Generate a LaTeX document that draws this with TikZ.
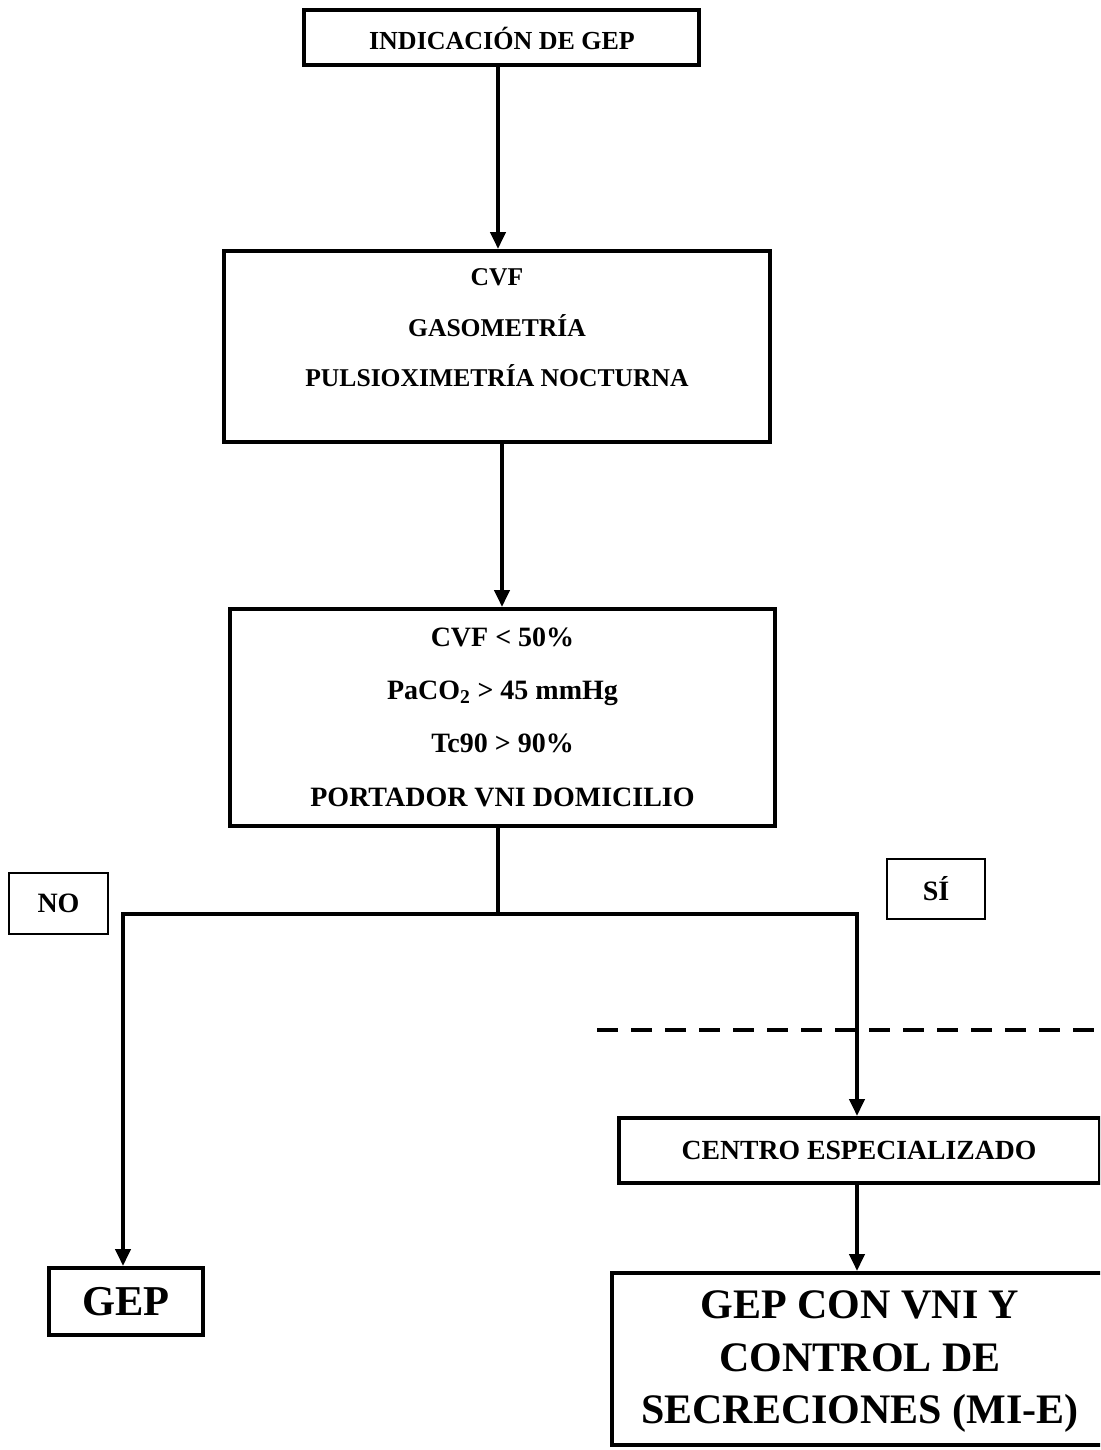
\documentclass[tikz,border=0pt]{standalone}
\usepackage{fontspec}
\setmainfont{Liberation Serif}
\usetikzlibrary{arrows.meta}
\begin{document}
\begin{tikzpicture}[x=1pt,y=-1pt,
  box/.style={draw,line width=4pt,inner sep=0pt,minimum width=#1},
  lbox/.style={draw,line width=1.8pt,inner sep=0pt},
  txt/.style={inner sep=0pt,align=center,font=#1},
  arr/.style={line width=4pt,-{Triangle[width=15pt,length=17pt]}},
  ln/.style={line width=4pt}]
\useasboundingbox (0,0) rectangle (1100,1450);
\clip (0,0) rectangle (1100,1450);
% boxes
\node[box=395pt,minimum height=55pt] (b1) at (501.5,37.5) {};
\node[txt={\fontsize{26}{30}\selectfont\bfseries}] (b1t) at (502,38) {INDICACIÓN DE GEP};
\node[box=546pt,minimum height=191pt] (b2) at (497,346.5) {};
\node[txt={\fontsize{25.6}{50.5}\selectfont\bfseries}] (b2t) at (497,328) {CVF\\GASOMETRÍA\\PULSIOXIMETRÍA NOCTURNA};
\node[box=545pt,minimum height=217pt] (b3) at (502.5,717.5) {};
\node[txt={\fontsize{28}{53.3}\selectfont\bfseries}] (b3t) at (502.5,717) {CVF < 50\%\\PaCO\textsubscript{2} > 45 mmHg\\Tc90 > 90\%\\PORTADOR VNI DOMICILIO};
\node[lbox,minimum width=99pt,minimum height=61pt,font=\fontsize{28}{30}\selectfont\bfseries] (no) at (58.5,903.5) {NO};
\node[lbox,minimum width=98pt,minimum height=60pt,font=\fontsize{28}{30}\selectfont\bfseries] (si) at (936,889) {SÍ};
\node[box=154pt,minimum height=67pt,font=\fontsize{42.5}{45}\selectfont\bfseries] (gep) at (126,1301.5) {GEP};
\node[box=481pt,minimum height=65pt,font=\fontsize{27.7}{30}\selectfont\bfseries] (centro) at (859,1150.5) {CENTRO ESPECIALIZADO};
\node[box=494pt,minimum height=172pt] (final) at (859,1359) {};
\node[txt={\fontsize{42}{52.5}\selectfont\bfseries}] (finalt) at (860,1362) {GEP CON VNI Y\\CONTROL DE\\SECRECIONES (MI-E)};
% connectors
\coordinate (j) at (498,914);
\coordinate (L) at (123,914);
\coordinate (R) at (857,914);
\draw[arr] (b1.south -| 498,0) -- (b2.north -| 498,0);
\draw[arr] (b2.south -| 502,0) -- (b3.north -| 502,0);
\draw[ln] (b3.south -| j) -- (j);
\draw[ln,line cap=rect] (L) -- (R);
\draw[arr] (L) -- (L |- gep.north);
\draw[arr] (R) -- (R |- centro.north);
\draw[arr] (centro.south -| R) -- (final.north -| R);
\coordinate (d1) at (597,1030);
\coordinate (d2) at (1100,1030);
\draw[ln,dash pattern=on 21pt off 13pt] (d1) -- (d2);
\end{tikzpicture}
\end{document}
